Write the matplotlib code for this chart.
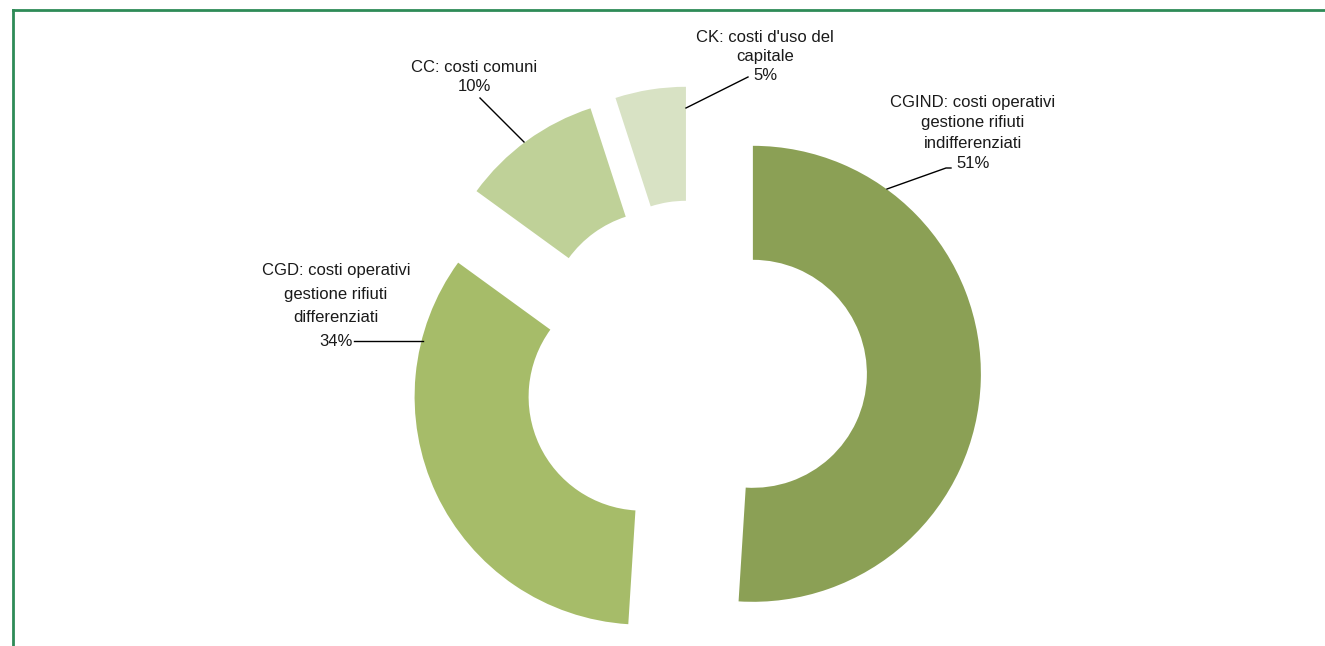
import matplotlib
matplotlib.use("Agg")
import matplotlib.pyplot as plt
from matplotlib.lines import Line2D

# ---- data ----
categories = ["CGIND: costi operativi\ngestione rifiuti\nindifferenziati",
              "CGD: costi operativi\ngestione rifiuti\ndifferenziati",
              "CC: costi comuni",
              "CK: costi d'uso del\ncapitale"]
values = [51, 34, 10, 5]
colors = ["#8BA055", "#A6BC69", "#BFD198", "#D8E2C4"]

W, H = 1325, 646
CX, CY, R = 695, 372, 228  # pie centre and radius in pixels

plt.rcParams['font.family'] = ['Liberation Sans', 'DejaVu Sans']

fig = plt.figure(figsize=(W / 100, H / 100), dpi=100)
ax = fig.add_axes([0, 0, 1, 1])
ax.pie(values, colors=colors, startangle=90, counterclock=False,
       explode=[0.254] * len(values), radius=1.0,
       wedgeprops=dict(width=0.5, edgecolor='none', linewidth=0))
ax.set_xlim(-CX / R, (W - CX) / R)
ax.set_ylim(-(H - CY) / R, CY / R)
ax.set_aspect('auto')
ax.axis('off')


def P(px, py):
    return ((px - CX) / R, (CY - py) / R)


total = sum(values)
pct = [f"{round(v / total * 100)}%" for v in values]

# label centres (px) and line spacing
label_pos = [(973, 133, 1.42), (336, 306, 1.7), (474, 77, 1.3), (765, 56.5, 1.35)]
for cat, p, (lx, ly, ls) in zip(categories, pct, label_pos):
    x, y = P(lx, ly)
    ax.text(x, y, f"{cat}\n{p}", ha='center', va='center', multialignment='center',
            fontsize=12, color='#1a1a1a', linespacing=ls)

# leader lines (px)
leaders = [[(887, 189), (946, 168), (951, 168)],
           [(423, 341), (354, 341)],
           [(524, 142), (480, 98)],
           [(686, 108), (748, 77)]]
for pts in leaders:
    xs, ys = zip(*[P(a, b) for a, b in pts])
    ax.add_line(Line2D(xs, ys, color='black', lw=1.0))

# green frame lines (top and left)
fig.add_artist(Line2D([12.5 / W, 1], [1 - 10 / H, 1 - 10 / H], transform=fig.transFigure,
                      color='#2E8B57', lw=2))
fig.add_artist(Line2D([12.5 / W, 12.5 / W], [0, 1 - 10 / H], transform=fig.transFigure,
                      color='#2E8B57', lw=2))

fig.savefig("out.png", dpi=100)
